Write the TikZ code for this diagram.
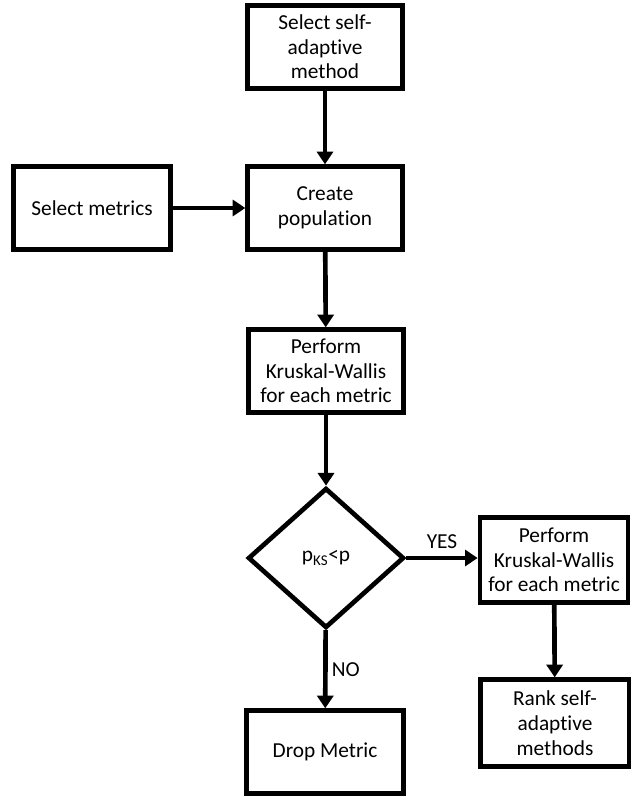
\documentclass[tikz,border=0pt]{standalone}
\usepackage{fontspec}
\setmainfont[Ligatures=NoCommon]{Carlito}
\usepackage{tikz}
\usetikzlibrary{shapes,arrows.meta,positioning}

\begin{document}
\begin{tikzpicture}[x=0.75pt,y=-0.75pt,
  box/.style={draw,line width=3.5pt,minimum width=116pt,minimum height=62pt,
              align=center,font=\fontsize{16}{18.5}\selectfont,inner sep=2pt},
  dec/.style={draw,diamond,line width=3.5pt,minimum width=117pt,minimum height=105pt,
              inner sep=0pt,font=\fontsize{16}{18.5}\selectfont},
  arr/.style={line width=3.5pt,-{Triangle[width=12pt,length=9.5pt]}},
  lbl/.style={font=\fontsize{16}{18.5}\selectfont,inner sep=3pt}
]
\useasboundingbox (0,0) rectangle (631,796);

%% -- main column --------------------------------------------------------------
\node[box]                        (sel)  at (325, 47)  {Select self-\\adaptive\\method};
\node[box]                        (pop)  at (325,208)  {Create\\population};
\node[box]                        (kw)   at (326,371)  {Perform\\Kruskal-Wallis\\for each metric};
\node[dec]                        (test) at (326,558)  {p\textsubscript{KS}<p};
\node[box,minimum width=118pt]    (drop) at (325,752)  {Drop Metric};

%% -- side boxes ---------------------------------------------------------------
\node[box,minimum width=118pt]    (met)  at (92,208)   {Select metrics};
\node[box,minimum width=111pt,minimum height=64pt] (kw2)  at (554,560) {Perform\\Kruskal-Wallis\\for each metric};
\node[box,minimum width=112pt,minimum height=65pt] (rank) at (555,723) {Rank self-\\adaptive\\methods};

%% -- connectors ---------------------------------------------------------------
\draw[arr] (sel) -- (pop);
\draw[arr] (met) -- (pop);
\draw[arr] (pop) -- (kw);
\draw[arr] (kw) -- (test);
\draw[arr] (test.east) -- (test.east -| kw2.west) node[lbl,midway,above=2pt]{YES};
\draw[arr] (kw2) -- (rank);
\draw[arr] (test) -- (drop) node[lbl,midway,right]{NO};
\end{tikzpicture}
\end{document}
